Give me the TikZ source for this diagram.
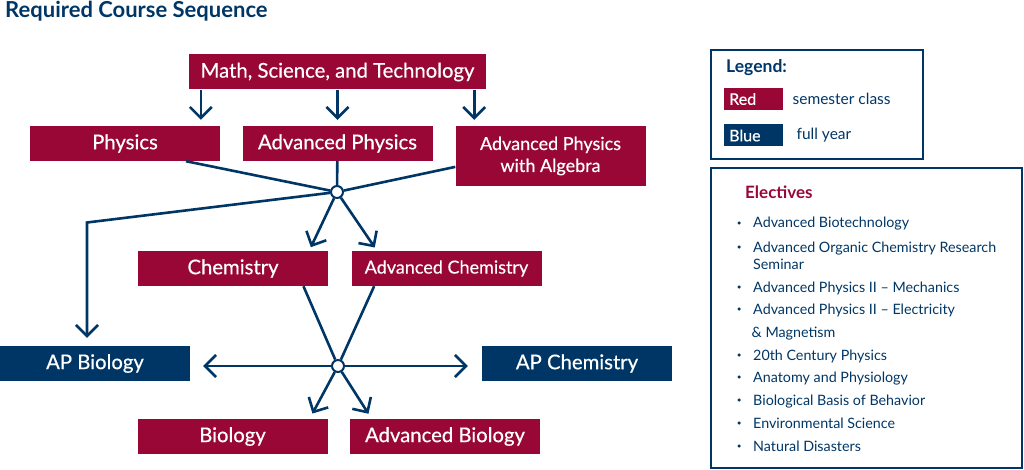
\documentclass[tikz,border=0pt]{standalone}
\usepackage{fontspec}
\setmainfont{Lato}
\newfontfamily\boxfont{Lato}[FakeBold=0.4]
\usetikzlibrary{arrows.meta,calc,positioning}
\definecolor{CourseRed}{RGB}{152,7,53}
\definecolor{CourseBlue}{RGB}{0,54,101}

\begin{document}
\begin{tikzpicture}[x=1pt,y=-1pt,
  redbox/.style={fill=CourseRed,text=white,minimum width=190pt,minimum height=35pt,inner sep=0pt,font=\boxfont\fontsize{20.3}{22}\selectfont},
  bluebox/.style={redbox,fill=CourseBlue},
  smalltext/.style={font=\boxfont\fontsize{18}{22}\selectfont},
  link/.style={CourseBlue,line width=2.6pt},
  arr/.style={link,-{Straight Barb[length=11pt,width=22pt]}},
  hub/.style={circle,draw=CourseBlue,fill=white,line width=2pt,minimum size=12pt,inner sep=0pt},
  frame/.style={draw=CourseBlue,line width=2pt,inner sep=0pt},
  keybox/.style={text=white,minimum height=22pt,text width=49pt,inner xsep=5pt,inner ysep=0pt,anchor=west,align=left,font=\boxfont\fontsize{16}{19}\selectfont},
  keytext/.style={inner sep=0pt,text=CourseBlue,font=\fontsize{15.5}{19}\selectfont},
  item/.style={anchor=base west,inner sep=0pt,text=CourseBlue,font=\fontsize{14.3}{18}\selectfont}]
\useasboundingbox (0,0) rectangle (1024,470);

\node[anchor=base west,inner sep=0pt,text=CourseBlue,font=\bfseries\fontsize{22}{26}\selectfont] (title) at (5,17.5) {Required Course Sequence};

% course boxes
\node[redbox,minimum width=297pt] (mst) at (337.5,72) {Math, Science, and Technology};
\node[redbox] (phys) at (125,143.5) {Physics};
\node[redbox] (advphys) at (337.5,143.5) {Advanced Physics};
\node[redbox,smalltext,minimum height=60pt,align=center] (alg) at (550.5,156) {Advanced Physics\\with Algebra};
\node[hub] (j1) at (337,192) {};
\node[redbox] (chem) at (233,268.5) {Chemistry};
\node[redbox,smalltext] (advchem) at (446.5,268.5) {Advanced Chemistry};
\node[bluebox] (apbio) at (95,363.5) {AP Biology};
\node[bluebox] (apchem) at (577,363.5) {AP Chemistry};
\node[hub] (j2) at (338,366) {};
\node[redbox] (bio) at (232.5,436.5) {Biology};
\node[redbox] (advbio) at (445,436.5) {Advanced Biology};

% first year
\draw[arr,shorten >=6pt] ($(mst.south west)+(12,0)$) -- ($(mst.south west |- phys.north)+(12,0)$);
\draw[arr,shorten >=6pt] (mst.south) -- (advphys.north);
\draw[arr,shorten >=6pt] ($(mst.south east)+(-12,0)$) -- ($(mst.south east |- alg.north)+(-12,0)$);

% physics -> chemistry / AP Biology
\draw[link] ($(phys.south west)!.82!(phys.south east)$) -- (j1);
\draw[link] (advphys) -- (j1);
\draw[link] ($(alg.north west)!.68!(alg.south west)$) -- (j1);
\coordinate (bend) at (87,222.5);
\draw[arr,shorten >=8pt] (j1) -- (bend) -- (bend |- apbio.north);
\draw[arr,shorten >=4pt] (j1) -- ($(chem.north west)!.9!(chem.north east)$);
\draw[arr,shorten >=4pt] (j1) -- ($(advchem.north west)!.135!(advchem.north east)$);

% chemistry -> biology / AP
\draw[link] ($(chem.south west)!.87!(chem.south east)$) -- (j2);
\draw[link] ($(advchem.south west)!.12!(advchem.south east)$) -- (j2);
\draw[arr,shorten >=13pt] (j2) -- (j2 -| apbio.east);
\draw[arr,shorten >=14pt] (j2) -- (j2 -| apchem.west);
\draw[arr,shorten >=6pt] (j2) -- ($(bio.north west)!.905!(bio.north east)$);
\draw[arr,shorten >=6pt] (j2) -- ($(advbio.north west)!.115!(advbio.north east)$);

% legend
\node[frame,minimum width=212pt,minimum height=109pt] (legend) at (816.7,104.7) {};
\node[anchor=base west,inner sep=0pt,text=CourseBlue,font=\bfseries\fontsize{17.5}{20}\selectfont] (legtitle) at (726,73) {Legend:};
\node[keybox,fill=CourseRed] (redkey) at (724,99) {Red};
\node[keytext,right=9pt of redkey] (redtext) {semester class};
\node[keybox,fill=CourseBlue] (bluekey) at (724,135.5) {Blue};
\node[keytext,right=13pt of bluekey] (bluetext) {full year};

% electives
\node[frame,minimum width=311pt,minimum height=300pt] (electives) at (866.2,318) {};
\node[anchor=base west,inner sep=0pt,text=CourseRed,font=\bfseries\fontsize{17}{20}\selectfont] (eltitle) at (745,199) {Electives};
\foreach \yb/\course [count=\i] in {228/Advanced Biotechnology, 252/Advanced Organic Chemistry Research,
    292/{Advanced Physics II – Mechanics}, 314/{Advanced Physics II – Electricity}, 360/20th Century Physics,
    382/Anatomy and Physiology, 405/Biological Basis of Behavior, 428/Environmental Science, 451/Natural Disasters}
  {\node[item] (course\i) at (753,\yb) {\course};
   \node[circle,fill=CourseBlue,inner sep=0pt,minimum size=3.5pt] (dot\i) at (739,\yb-5) {};}
\node[item] (seminar) at (753,269) {Seminar};
\node[item] (magnet) at (751.5,337) {\& Magnetism};
\end{tikzpicture}
\end{document}
